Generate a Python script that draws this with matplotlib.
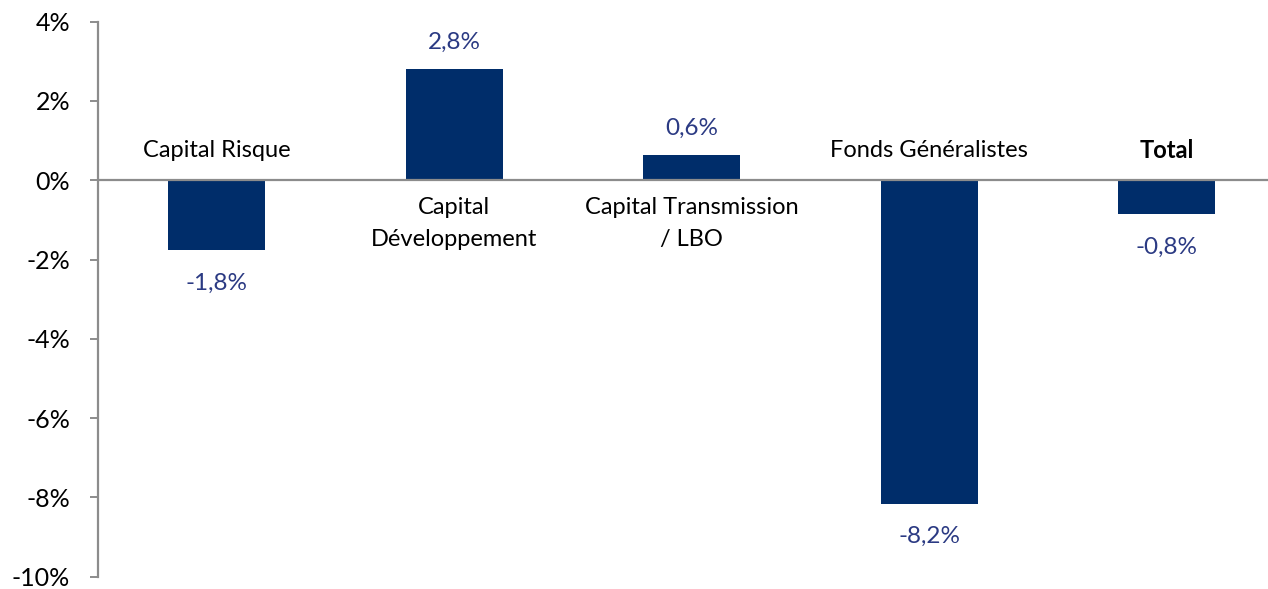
import matplotlib
matplotlib.use('Agg')
from matplotlib import pyplot as plt

categories = ['Capital Risque', 'Capital\nDéveloppement', 'Capital Transmission\n/ LBO', 'Fonds Généralistes', 'Total']
values = [-1.76, 2.81, 0.64, -8.16, -0.85]
y_ticks = [4, 2, 0, -2, -4, -6, -8, -10]

plt.rcParams['font.family'] = ['Lato', 'DejaVu Sans']

fig = plt.figure(figsize=(12.68, 5.89), dpi=100)
ax = fig.add_axes([98 / 1268, 1 - 576.7 / 589, 1170 / 1268, 555 / 589])

x = list(range(len(values)))
ax.bar(x, values, width=0.41, color='#002D6A', zorder=2)
ax.axhline(0, color='#8C8C8C', linewidth=1.6, zorder=3)

ax.set_xlim(-0.5, -0.5 + 1170 / 237.5)
ax.set_ylim(-10, 4)
ax.set_yticks(y_ticks)
ax.set_yticklabels([f'{t}%' for t in y_ticks], fontsize=18)
ax.set_xticks([])

for s in ['top', 'right', 'bottom']:
    ax.spines[s].set_visible(False)
ax.spines['left'].set_color('#8C8C8C')
ax.spines['left'].set_linewidth(1.6)
ax.tick_params(axis='y', direction='out', length=6, width=1.4, color='#8C8C8C', pad=14)

for i, v in enumerate(values):
    lab = f'{v:.1f}%'.replace('.', ',')
    off = 27 if v > 0 else -33
    ax.annotate(lab, (i, v), xytext=(0, off), textcoords='offset pixels',
                ha='center', va='center', fontsize=17.5, color='#2B3A83')
    weight = 'bold' if categories[i] == 'Total' else 'normal'
    if v < 0:
        ax.annotate(categories[i], (i, 0), xytext=(0, 30), textcoords='offset pixels',
                    ha='center', va='center', fontsize=17, color='black', fontweight=weight)
    else:
        ax.annotate(categories[i], (i, 0), xytext=(0, -17), textcoords='offset pixels',
                    ha='center', va='top', fontsize=17, color='black', fontweight=weight,
                    linespacing=1.65)

fig.savefig('out.png', dpi=100)
